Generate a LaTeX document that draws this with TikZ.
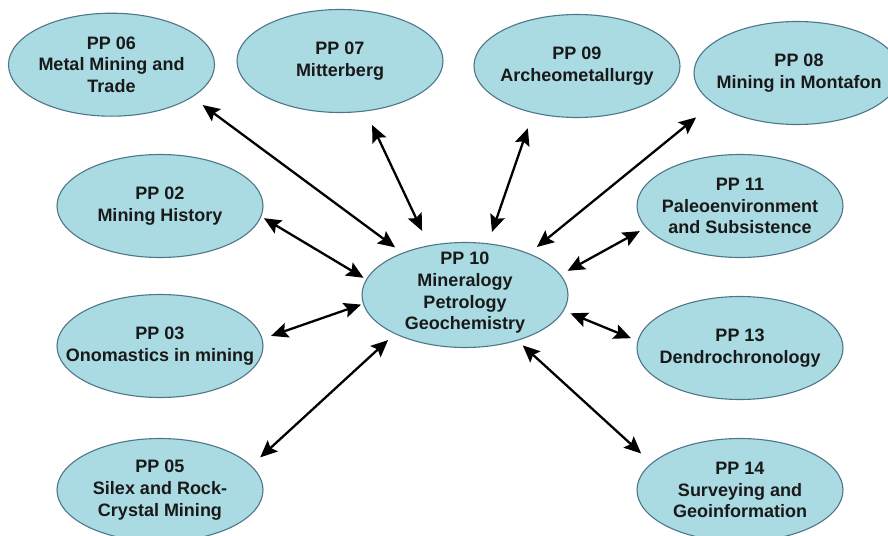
\documentclass[tikz,border=0pt]{standalone}
\usepackage{fontspec}
\setmainfont{Liberation Sans}
\usetikzlibrary{shapes.geometric,arrows.meta}
\definecolor{ellfill}{RGB}{170,219,227}
\definecolor{elldraw}{RGB}{78,118,138}
\definecolor{txt}{RGB}{25,25,25}
\tikzset{
  pp/.style={ellipse, draw=elldraw, fill=ellfill, line width=1.1pt,
    minimum width=206pt, minimum height=103pt, inner sep=0pt},
  pptext/.style={align=center, text=txt, inner sep=0pt,
    font=\bfseries\fontsize{18}{21.7}\selectfont},
  link/.style={line width=2.3pt, draw=black,
    {Stealth[length=17pt,width=15pt,inset=3pt]}-{Stealth[length=17pt,width=15pt,inset=3pt]}}
}
\begin{document}
\begin{tikzpicture}[x=1pt,y=1pt]
\useasboundingbox (0,0) rectangle (888,-535);
\fill[white] (0,0) rectangle (888,-535);
\node[pp] (pp06) at (111.5,-64.7) {};
\node[pp] (pp07) at (340,-61) {};
\node[pp] (pp09) at (577,-66) {};
\node[pp] (pp08) at (797,-73) {};
\node[pp] (pp02) at (160,-206) {};
\node[pp] (pp03) at (160,-346) {};
\node[pp] (pp05) at (160,-490) {};
\node[pp] (pp11) at (740,-206) {};
\node[pp] (pp13) at (740,-348) {};
\node[pp] (pp14) at (740,-490) {};
\node[pp, minimum height=105pt] (pp10) at (465,-295) {};
\node[pptext] (t06) at (pp06) {PP 06\\Metal Mining and\\Trade};
\node[pptext] (t07) at (pp07) {PP 07\\Mitterberg};
\node[pptext] (t09) at (pp09) {PP 09\\Archeometallurgy};
\node[pptext] (t08) at ([xshift=2pt]pp08.center) {PP 08\\Mining in Montafon};
\node[pptext] (t02) at (pp02) {PP 02\\Mining History};
\node[pptext] (t03) at (pp03) {PP 03\\Onomastics in mining};
\node[pptext] (t05) at (pp05) {PP 05\\Silex and Rock-\\Crystal Mining};
\node[pptext] (t11) at (pp11) {PP 11\\Paleoenvironment\\and Subsistence};
\node[pptext] (t13) at (pp13) {PP 13\\Dendrochronology};
\node[pptext] (t14) at (pp14) {PP 14\\Surveying and\\Geoinformation};
\node[pptext] (t10) at ([yshift=2pt]pp10.center) {PP 10\\Mineralogy\\Petrology\\Geochemistry};
\draw[link, shorten <=13pt, shorten >=9pt] (pp06.-22.7) -- (pp10.146.1);
\draw[link, shorten <=15pt, shorten >=16pt] (pp07.-63.4) -- (pp10.126.7);
\draw[link, shorten <=16pt, shorten >=12pt] (pp09.-133) -- (pp10.66.8);
\draw[link, shorten <=22pt, shorten >=10pt] (pp08.-160.8) -- (pp10.33.1);
\draw[link, shorten <=3pt, shorten >=3pt] (pp02.-6.6) -- (pp10.171.6);
\draw[link, shorten <=9pt, shorten >=2pt] (pp03.4.6) -- (pp10.185.6);
\draw[link, shorten <=12pt, shorten >=9pt] (pp05.15.2) -- (pp10.-151.1);
\draw[link, shorten <=7pt, shorten >=8pt] (pp11.-167.8) -- (pp10.12.6);
\draw[link, shorten <=7pt, shorten >=7pt] (pp13.176.9) -- (pp10.-9.7);
\draw[link, shorten <=14pt, shorten >=7pt] (pp14.163.8) -- (pp10.-41.3);
\end{tikzpicture}
\end{document}
